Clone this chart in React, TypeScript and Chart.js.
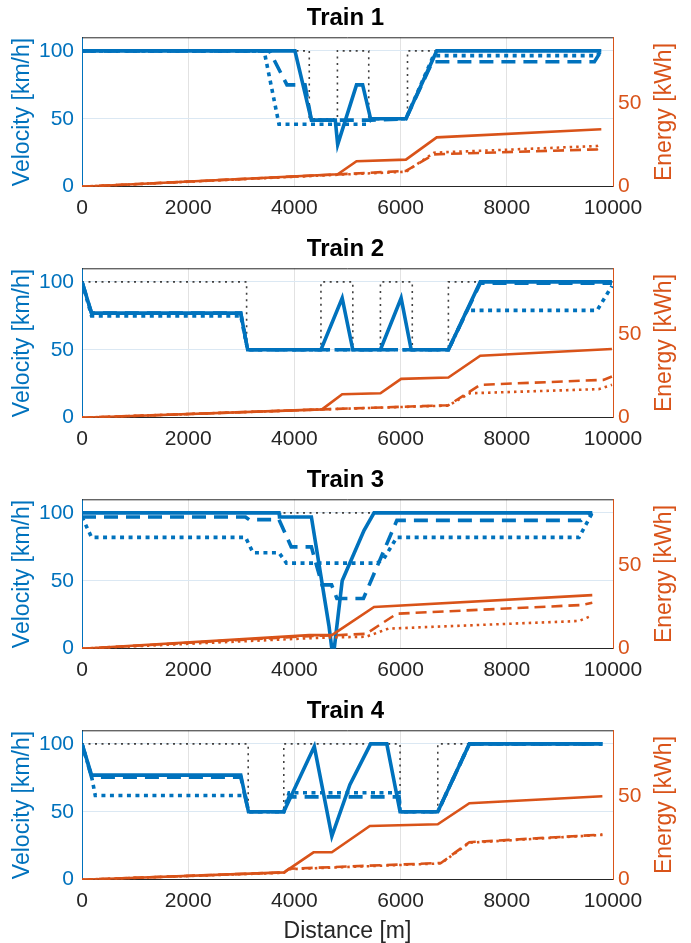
import React, { useEffect, useRef } from "react";
import { Chart, registerables } from "chart.js";

Chart.register(...registerables);

// ---------- data (distance [m], value) ----------
const xTicks = [0, 2000, 4000, 6000, 8000, 10000];
const velocityTicks = [0, 50, 100];
const energyTicks = [0, 50];

// Train 1
const t1Limit = [[0, 100], [4280, 100], [4280, 50], [4810, 50], [4810, 100], [5400, 100], [5400, 50], [6130, 50], [6130, 100], [9780, 100]];
const t1VelSolid = [[0, 100], [4010, 100], [4320, 49], [4770, 49], [4815, 31], [5170, 75], [5285, 75], [5435, 50], [6100, 50], [6680, 100], [9780, 100]];
const t1VelDashed = [[0, 100], [3530, 100], [3860, 75], [4200, 75], [4320, 49], [5435, 49], [6100, 50], [6600, 92], [9650, 92], [9780, 100]];
const t1VelDotted = [[0, 100], [3430, 100], [3710, 46], [5390, 46], [5435, 50], [6100, 50], [6620, 96.5], [9700, 96.5], [9780, 100]];
const t1EnSolid = [[0, 0], [4815, 7.5], [5170, 15.3], [6100, 16.3], [6680, 29.7], [9780, 34.6]];
const t1EnDashed = [[0, 0], [4815, 7.4], [6100, 9.5], [6630, 19.5], [9700, 22.5], [9780, 23.8]];
const t1EnDotted = [[0, 0], [4815, 7.2], [6100, 9], [6630, 20.5], [9700, 24.5], [9780, 25.5]];

// Train 2
const t2Limit = [[0, 100], [3100, 100], [3100, 50], [4500, 50], [4500, 100], [5100, 100], [5100, 50], [5620, 50], [5620, 100], [6220, 100], [6220, 50], [6900, 50], [6900, 100], [10000, 100]];
const t2VelSolid = [[0, 100], [180, 77], [2990, 77], [3120, 50], [4500, 50], [4900, 88], [5100, 50], [5620, 50], [6010, 88], [6200, 50], [6900, 50], [7500, 100], [9980, 100]];
const t2VelDashed = [[0, 100], [180, 77], [2990, 77], [3120, 50], [6900, 50], [7500, 99], [9980, 99]];
const t2VelDotted = [[0, 100], [180, 75], [2990, 75], [3120, 50], [6900, 50], [7250, 79], [9700, 79], [9980, 97]];
const t2EnSolid = [[0, 0], [4520, 5], [4900, 14.1], [5620, 14.7], [6010, 23.4], [6900, 24.2], [7500, 37.3], [9980, 41.4]];
const t2EnDashed = [[0, 0], [4520, 5], [6900, 7.5], [7500, 19.8], [9820, 22.8], [9980, 24.8]];
const t2EnDotted = [[0, 0], [4520, 5], [6900, 7.3], [7300, 14.7], [9730, 17.2], [9980, 19.8]];

// Train 3
const t3Limit = [[0, 100], [9610, 100]];
const t3VelSolid = [[0, 100], [3710, 100], [3720, 97], [4320, 97], [4650, 17], [4705, 0], [4750, 0], [4900, 50], [5310, 87], [5500, 100], [9610, 100]];
const t3VelDashed = [[0, 97], [3080, 97], [3150, 95], [3710, 95], [3940, 75], [4320, 75], [4520, 47], [4700, 47], [4800, 37], [5300, 37], [5930, 94.5], [9400, 94.5], [9610, 100]];
const t3VelDotted = [[0, 97], [180, 82], [3080, 82], [3220, 70.7], [3710, 70.7], [3850, 63], [5560, 63], [5680, 66], [5930, 82], [9360, 82], [9610, 100]];
const t3EnSolid = [[0, 0], [4280, 8.2], [4706, 8.2], [5500, 25.1], [9610, 32.3]];
const t3EnDashed = [[0, 0], [4280, 7.6], [4706, 8], [5350, 9], [5930, 21.1], [9400, 26.3], [9610, 27.7]];
const t3EnDotted = [[0, 0], [4280, 6.3], [4706, 6.8], [5350, 7.2], [5770, 12.1], [9360, 16.7], [9610, 20]];

// Train 4
const t4Limit = [[0, 100], [3130, 100], [3130, 50], [3800, 50], [3800, 100], [5990, 100], [5990, 50], [6700, 50], [6700, 100], [9800, 100]];
const t4VelSolid = [[0, 100], [180, 77], [2990, 77], [3135, 50], [3800, 50], [4375, 98], [4705, 32], [5045, 70], [5435, 100], [5740, 100], [5990, 50], [6700, 50], [7295, 100], [9800, 100]];
const t4VelDashed = [[0, 100], [180, 75.5], [2990, 75.5], [3135, 50], [3800, 50], [3900, 61], [5970, 61], [5990, 50], [6700, 50], [7295, 100], [9800, 100]];
const t4VelDotted = [[0, 100], [180, 76], [250, 62], [3077, 62], [3135, 50], [3800, 50], [3900, 64], [5970, 64], [5990, 50], [6700, 50], [7295, 100], [9800, 100]];
const t4EnSolid = [[0, 0], [3805, 4.4], [4360, 16.5], [4705, 16.5], [5420, 32.4], [6700, 33.4], [7295, 46.1], [9800, 50.3]];
const t4EnDashed = [[0, 0], [3805, 4.4], [3900, 6.6], [6760, 10.1], [7295, 22.6], [9800, 27.2]];
const t4EnDotted = [[0, 0], [3805, 4.2], [3900, 6.3], [6760, 9.8], [7295, 22.3], [9800, 27]];

const trainTitles = ["Train 1", "Train 2", "Train 3", "Train 4"];

// ---------- styles ----------
const BLUE = "#0072BD";
const ORANGE = "#D95319";
const DARK = "#262626";
const FONT = "'Liberation Sans', Arial, Helvetica, sans-serif";

const trains = [
  { title: trainTitles[0], limit: t1Limit, vs: t1VelSolid, vd: t1VelDashed, vo: t1VelDotted, es: t1EnSolid, ed: t1EnDashed, eo: t1EnDotted },
  { title: trainTitles[1], limit: t2Limit, vs: t2VelSolid, vd: t2VelDashed, vo: t2VelDotted, es: t2EnSolid, ed: t2EnDashed, eo: t2EnDotted },
  { title: trainTitles[2], limit: t3Limit, vs: t3VelSolid, vd: t3VelDashed, vo: t3VelDotted, es: t3EnSolid, ed: t3EnDashed, eo: t3EnDotted },
  { title: trainTitles[3], limit: t4Limit, vs: t4VelSolid, vd: t4VelDashed, vo: t4VelDotted, es: t4EnSolid, ed: t4EnDashed, eo: t4EnDotted },
];

const toXY = (pts: number[][]) => pts.map(([x, y]) => ({ x, y }));
const plainLabel = (v: any) => String(v);

const framePlugin = {
  id: "frame",
  afterDraw(chart: any, _args: any, opts: any) {
    const { ctx, chartArea } = chart;
    const { left, right, top, bottom } = chartArea;
    ctx.save();
    ctx.strokeStyle = DARK;
    ctx.lineWidth = 1;
    ctx.beginPath();
    ctx.moveTo(left, top + 0.5);
    ctx.lineTo(right, top + 0.5);
    ctx.stroke();
    ctx.translate(right + 52, (top + bottom) / 2);
    ctx.rotate(-Math.PI / 2);
    ctx.textAlign = "center";
    ctx.textBaseline = "middle";
    ctx.fillStyle = ORANGE;
    ctx.font = `23px ${FONT}`;
    ctx.fillText(opts.text, 0, 0);
    ctx.restore();
  },
};

function TrainChart({ train, height, showX }: { train: any; height: number; showX: boolean }) {
  const ref = useRef<HTMLCanvasElement | null>(null);
  useEffect(() => {
    if (!ref.current) return;
    const common = { pointRadius: 0, pointHoverRadius: 0, tension: 0, fill: false };
    const chart = new Chart(ref.current, {
      type: "line",
      data: {
        datasets: [
          { ...common, label: "limit", data: toXY(train.limit), yAxisID: "yV", borderColor: "#404040", borderWidth: 1.6, borderDash: [2, 4.5], order: 10 },
          { ...common, label: "v solid", data: toXY(train.vs), yAxisID: "yV", borderColor: BLUE, borderWidth: 3.6, order: 3 },
          { ...common, label: "v dashed", data: toXY(train.vd), yAxisID: "yV", borderColor: BLUE, borderWidth: 3.6, borderDash: [14, 8], order: 2 },
          { ...common, label: "v dotted", data: toXY(train.vo), yAxisID: "yV", borderColor: BLUE, borderWidth: 3.6, borderDash: [4, 4.5], order: 1 },
          { ...common, label: "e solid", data: toXY(train.es), yAxisID: "yE", borderColor: ORANGE, borderWidth: 2.6, order: -1 },
          { ...common, label: "e dashed", data: toXY(train.ed), yAxisID: "yE", borderColor: ORANGE, borderWidth: 2.6, borderDash: [11, 6], order: -2 },
          { ...common, label: "e dotted", data: toXY(train.eo), yAxisID: "yE", borderColor: ORANGE, borderWidth: 2.6, borderDash: [2.5, 4], order: -3 },
        ],
      },
      options: {
        responsive: false,
        animation: false,
        devicePixelRatio: 1,
        events: [],
        layout: { padding: 0 },
        plugins: {
          legend: { display: false },
          tooltip: { enabled: false },
          title: {
            display: true,
            text: train.title,
            color: "#000",
            font: { family: FONT, size: 24, weight: "bold", lineHeight: 1.15 },
            padding: { top: 4.5, bottom: 5.2 },
          },
          frame: { text: "Energy [kWh]" },
        } as any,
        scales: {
          x: {
            type: "linear",
            min: xTicks[0],
            max: xTicks[xTicks.length - 1],
            afterBuildTicks: (s: any) => { s.ticks = xTicks.map((v) => ({ value: v })); },
            ticks: { color: DARK, font: { family: FONT, size: 21 }, padding: 9, maxRotation: 0, autoSkip: false, callback: plainLabel },
            grid: { color: "#e2e2e2", lineWidth: 1, drawTicks: false },
            border: { color: DARK, width: 1 },
            title: { display: showX, text: "Distance [m]", color: DARK, font: { family: FONT, size: 23, lineHeight: 1 }, padding: { top: 0, bottom: 0 } },
            afterFit: (s: any) => { s.height = height - 186.7; },
          },
          yV: {
            type: "linear",
            position: "left",
            min: 0,
            max: 110,
            afterBuildTicks: (s: any) => { s.ticks = velocityTicks.map((v) => ({ value: v })); },
            ticks: { color: BLUE, font: { family: FONT, size: 21 }, padding: 8, callback: plainLabel },
            grid: { color: "#dbe8f3", lineWidth: 1, drawTicks: false },
            border: { color: BLUE, width: 1 },
            title: { display: true, text: "Velocity [km/h]", color: BLUE, font: { family: FONT, size: 23 }, padding: { top: 9, bottom: 0 } },
            afterFit: (s: any) => { s.width = 82; },
          },
          yE: {
            type: "linear",
            position: "right",
            min: 0,
            max: 90,
            afterBuildTicks: (s: any) => { s.ticks = energyTicks.map((v) => ({ value: v })); },
            ticks: { color: ORANGE, font: { family: FONT, size: 21 }, padding: 5, callback: plainLabel },
            grid: { display: false, drawTicks: false },
            border: { color: ORANGE, width: 1 },
            afterFit: (s: any) => { s.width = 78; },
          },
        } as any,
      },
      plugins: [framePlugin],
    } as any);
    return () => chart.destroy();
  }, [train, height, showX]);
  return <canvas ref={ref} width={691} height={height} style={{ display: "block", width: 691, height }} />;
}

export default function App() {
  return (
    <div style={{ position: "absolute", left: 0, top: 0, width: 691, height: 943, background: "#fff" }}>
      {trains.map((t, i) => {
        const h = i === 3 ? 250 : 231;
        return (
          <div key={t.title} style={{ position: "absolute", left: 0, top: 231 * i, width: 691, height: h }}>
            <TrainChart train={t} height={h} showX={i === 3} />
          </div>
        );
      })}
    </div>
  );
}
